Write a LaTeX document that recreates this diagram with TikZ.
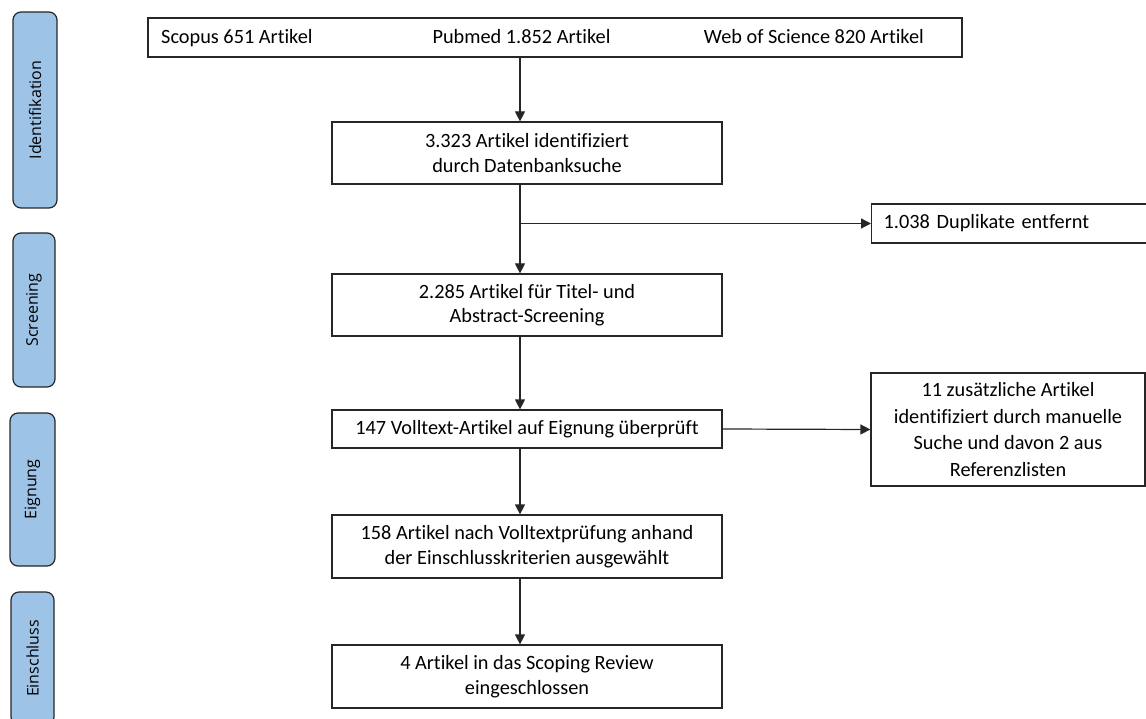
\documentclass[tikz,border=0pt]{standalone}
\usepackage{fontspec}
\setmainfont{Carlito}[Ligatures=NoCommon]
\newfontfamily\phasefont{Open Sans}[Ligatures=NoCommon]
\usetikzlibrary{arrows.meta}
\definecolor{phaseblue}{HTML}{9DC3E6}
\definecolor{edge}{HTML}{262626}

\begin{document}
\begin{tikzpicture}[x=1pt, y=-1pt,
    box/.style={draw=edge, line width=1.2pt, inner sep=0pt, align=center, font=\fontsize{20.3}{24.5}\selectfont},
    label/.style={inner sep=0pt, font=\fontsize{20.3}{24.5}\selectfont},
    phase/.style={draw=edge, line width=1.2pt, fill=phaseblue, rounded corners=8pt, rotate=90, inner sep=0pt, font=\phasefont\fontsize{16}{19}\selectfont},
    link/.style={draw=edge, line width=1.2pt, -{Triangle[width=10pt,length=10pt]}}]
  \useasboundingbox (0,0) rectangle (1146,719);

  % phases
  \node[phase, minimum width=196pt, minimum height=44pt] (identifikation) at (35,110) {Identifikation};
  \node[phase, minimum width=154pt, minimum height=42pt] (screening) at (34,310) {Screening};
  \node[phase, minimum width=153pt, minimum height=45pt] (eignung) at (32.5,489.5) {Eignung};
  \node[phase, minimum width=133pt, minimum height=43pt] (einschluss) at (32.5,658.5) {Einschluss};

  % sources
  \node[box, minimum width=814pt, minimum height=39pt] (quellen) at (555,37.5) {};
  \node[label, anchor=base west] (scopus) at (161,44) {Scopus 651 Artikel};
  \node[label, anchor=base] (pubmed) at (521.5,44) {Pubmed 1.852 Artikel};
  \node[label, anchor=base east] (wos) at (924,44) {Web of Science 820 Artikel};

  % main flow
  \node[box, minimum width=390pt, minimum height=62pt] (ident) at (527,153) {3.323 Artikel identifiziert\\durch Datenbanksuche};
  \node[box, minimum width=390pt, minimum height=62pt] (screen) at (527,305) {2.285 Artikel für Titel- und\\Abstract-Screening};
  \node[box, minimum width=390pt, minimum height=38pt] (volltext) at (527,429) {147 Volltext-Artikel auf Eignung überprüft};
  \node[box, minimum width=390pt, minimum height=63pt] (auswahl) at (527,546.5) {158 Artikel nach Volltextprüfung anhand\\der Einschlusskriterien ausgewählt};
  \node[box, minimum width=390pt, minimum height=63pt] (review) at (527,676.5) {4 Artikel in das Scoping Review\\eingeschlossen};

  % side boxes
  \node[box, anchor=west, minimum height=39pt, inner xsep=12pt, text width=251pt, align=left] (dup) at (871,223.5) {1.038 Duplikate entfernt};
  \node[box, minimum width=274pt, minimum height=113pt, font=\fontsize{20.3}{26.5}\selectfont] (zusatz) at (1008,429.5) {11 zusätzliche Artikel\\identifiziert durch manuelle\\Suche und davon 2 aus\\Referenzlisten};

  \coordinate (spalte) at (520,0);

  \draw[link] (quellen.south -| spalte) -- (ident.north -| spalte);
  \draw[link] (ident.south -| spalte) -- (screen.north -| spalte);
  \draw[link] (spalte |- dup.west) -- (dup.west);
  \draw[link] (screen.south -| spalte) -- (volltext.north -| spalte);
  \draw[link] (volltext.east) -- (zusatz.west);
  \draw[link] (volltext.south -| spalte) -- (auswahl.north -| spalte);
  \draw[link] (auswahl.south -| spalte) -- (review.north -| spalte);
\end{tikzpicture}
\end{document}
